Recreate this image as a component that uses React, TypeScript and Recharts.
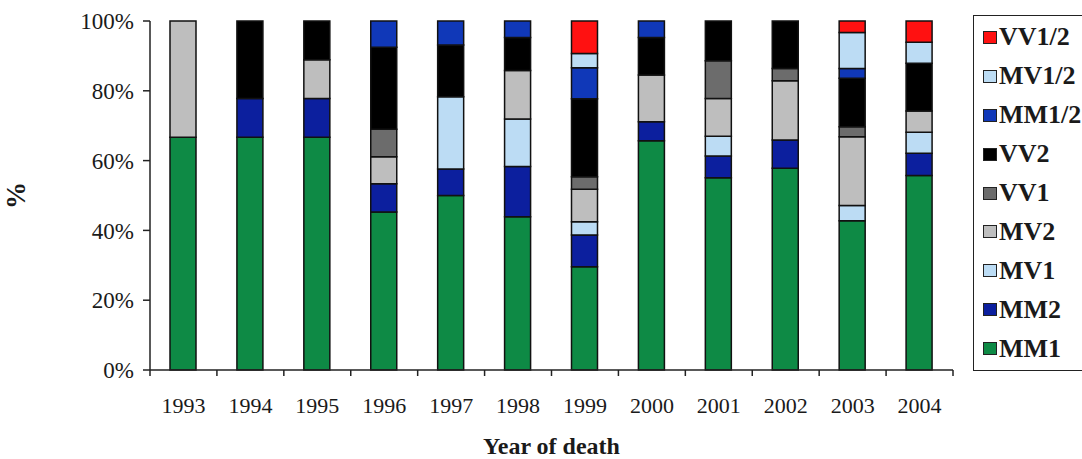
import React from 'react';
import { BarChart, Bar, XAxis, YAxis, Label } from 'recharts';

const years = ['1993', '1994', '1995', '1996', '1997', '1998', '1999', '2000', '2001', '2002', '2003', '2004'];

// values in % for each genotype/subtype, bottom to top of the stack
const MM1 = [66.7, 66.7, 66.7, 45.3, 50.0, 43.9, 29.6, 65.7, 55.1, 57.8, 42.8, 55.7];
const MM2 = [null, 11.1, 11.1, 8.1, 7.6, 14.4, 9.1, 5.4, 6.2, 8.1, null, 6.4];
const MV1 = [null, null, null, null, 20.7, 13.6, 3.8, null, 5.7, null, 4.3, 6.0];
const MV2 = [33.3, null, 11.1, 7.7, null, 13.9, 9.3, 13.4, 10.8, 17.0, 19.7, 6.1];
const VV1 = [null, null, null, 7.9, null, null, 3.6, null, 10.8, 3.5, 2.9, null];
const VV2 = [null, 22.2, 11.1, 23.5, 14.8, 9.5, 22.3, 10.8, 11.4, 13.6, 13.9, 13.7];
const MM12 = [null, null, null, 7.5, 6.9, 4.7, 8.9, 4.7, null, null, 2.8, null];
const MV12 = [null, null, null, null, null, null, 4.1, null, null, null, 10.3, 6.0];
const VV12 = [null, null, null, null, null, null, 9.3, null, null, null, 3.3, 6.1];

const yTicks = [0, 20, 40, 60, 80, 100];

const series = [
  { key: 'MM1', label: 'MM1', values: MM1, color: '#0e8a45' },
  { key: 'MM2', label: 'MM2', values: MM2, color: '#0c1f9e' },
  { key: 'MV1', label: 'MV1', values: MV1, color: '#bcdcf4' },
  { key: 'MV2', label: 'MV2', values: MV2, color: '#bebebe' },
  { key: 'VV1', label: 'VV1', values: VV1, color: '#6c6c6c' },
  { key: 'VV2', label: 'VV2', values: VV2, color: '#000000' },
  { key: 'MM12', label: 'MM1/2', values: MM12, color: '#1038b8' },
  { key: 'MV12', label: 'MV1/2', values: MV12, color: '#bcdcf4' },
  { key: 'VV12', label: 'VV1/2', values: VV12, color: '#ff1111' },
];

const data = years.map((year, i) => {
  const row: Record<string, any> = { year };
  series.forEach((s) => {
    row[s.key] = s.values[i];
  });
  return row;
});

const FONT = '"Liberation Serif", "Times New Roman", serif';
const X_TICK_SIZE = 6;
const X_TICK_MARGIN = 21;

// Category tick: label at the band centre plus tick marks at the band boundaries
const CatTick = (props: any) => {
  const { x, y, payload, index, visibleTicksCount, width } = props;
  const count = visibleTicksCount || years.length;
  const half = width ? width / count / 2 : 0;
  const axisY = y - X_TICK_SIZE - X_TICK_MARGIN;
  return (
    <g>
      {half > 0 && (
        <line x1={x - half} x2={x - half} y1={axisY} y2={axisY + X_TICK_SIZE} stroke="#222" strokeWidth={1.5} />
      )}
      {half > 0 && index === count - 1 && (
        <line x1={x + half} x2={x + half} y1={axisY} y2={axisY + X_TICK_SIZE} stroke="#222" strokeWidth={1.5} />
      )}
      <text x={x} y={y} dy="0.71em" textAnchor="middle" style={{ fontSize: 22, fill: '#1a1a1a', fontFamily: FONT }}>
        {payload.value}
      </text>
    </g>
  );
};

export default function App() {
  return (
    <div style={{ position: 'absolute', left: 0, top: 0, width: 1082, height: 459, overflow: 'hidden', background: '#fff', fontFamily: FONT }}>
      <BarChart
        width={1082}
        height={459}
        data={data}
        margin={{ top: 21, right: 129, bottom: 0, left: 0 }}
        barSize={26}
      >
        <XAxis
          xAxisId="cat"
          dataKey="year"
          height={89}
          tickLine={false}
          tickSize={X_TICK_SIZE}
          tickMargin={X_TICK_MARGIN}
          axisLine={{ stroke: '#222', strokeWidth: 1.5 }}
          tick={<CatTick />}
          interval={0}
        >
          <Label
            value="Year of death"
            position="insideBottom"
            offset={5}
            style={{ fontSize: 24, fontWeight: 'bold', fill: '#1a1a1a', fontFamily: FONT }}
          />
        </XAxis>
        <XAxis xAxisId="top" dataKey="year" orientation="top" height={0} tick={false} tickLine={false} axisLine={{ stroke: '#222', strokeWidth: 1.5 }} />
        <YAxis
          yAxisId="y"
          domain={[0, 100]}
          ticks={yTicks}
          width={150}
          tickSize={7}
          tickMargin={9}
          tickFormatter={(v) => `${v}%`}
          axisLine={{ stroke: '#222', strokeWidth: 1.5 }}
          tickLine={{ stroke: '#222', strokeWidth: 1.5 }}
          tick={{ fill: '#1a1a1a', fontSize: 23, fontFamily: FONT }}
        >
          <Label
            content={(props: any) => {
              const vb = props.viewBox || {};
              const cx = (vb.x || 0) + 16;
              const cy = (vb.y || 0) + (vb.height || 0) / 2;
              return (
                <text
                  x={cx}
                  y={cy}
                  transform={`rotate(-90, ${cx}, ${cy})`}
                  textAnchor="middle"
                  dominantBaseline="central"
                  style={{ fontSize: 27, fontWeight: 'bold', fill: '#1a1a1a', fontFamily: FONT }}
                >
                  %
                </text>
              );
            }}
          />
        </YAxis>
        <YAxis yAxisId="r" orientation="right" domain={[0, 100]} width={0} tick={false} tickLine={false} axisLine={{ stroke: '#222', strokeWidth: 1.5 }} />
        {series.map((s) => (
          <Bar
            key={s.key}
            dataKey={s.key}
            name={s.label}
            stackId="a"
            xAxisId="cat"
            yAxisId="y"
            fill={s.color}
            stroke="#111"
            strokeWidth={1.5}
            isAnimationActive={false}
          />
        ))}
      </BarChart>
      <div
        style={{
          position: 'absolute',
          left: 973,
          top: 15,
          width: 120,
          height: 356,
          border: '1.5px solid #222',
          boxSizing: 'border-box',
          paddingTop: 2,
          paddingLeft: 9,
        }}
      >
        {[...series].reverse().map((s) => (
          <div key={s.key} style={{ height: 38.9, display: 'flex', alignItems: 'center' }}>
            <span
              style={{
                display: 'inline-block',
                width: 12,
                height: 11,
                background: s.color,
                border: '1px solid #222',
                marginRight: 2,
                flexShrink: 0,
              }}
            />
            <span style={{ fontSize: 26, fontWeight: 'bold', color: '#1a1a1a', fontFamily: FONT, lineHeight: '38px', whiteSpace: 'nowrap' }}>{s.label}</span>
          </div>
        ))}
      </div>
    </div>
  );
}
